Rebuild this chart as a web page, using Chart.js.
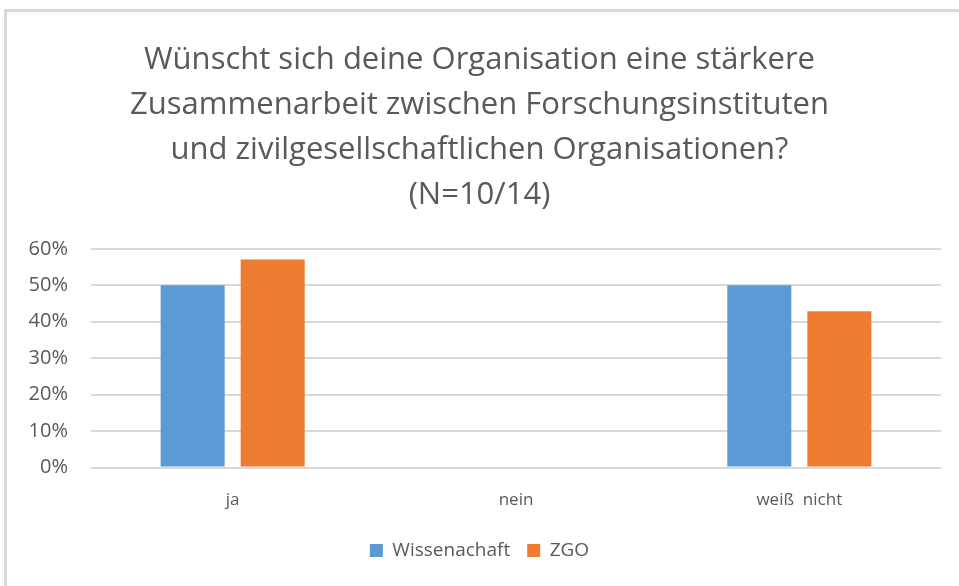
<!DOCTYPE html>
<html>
<head>
<meta charset="utf-8">
<script src="https://cdn.jsdelivr.net/npm/chart.js@4"></script>
<style>
  html, body { margin: 0; padding: 0; background: #fff; }
  #frame {
    position: absolute; left: 4px; top: 9px; width: 960px; height: 580px;
    border-top: 3px solid #d9d9d9; border-left: 3px solid #d9d9d9;
  }
  #wrap { position: absolute; left: 0; top: 0; width: 959px; height: 586px; }
</style>
</head>
<body>
<div id="frame"></div>
<div id="wrap"><canvas id="chart"></canvas></div>
<script>
const categories = ['ja', 'nein', 'weiß  nicht'];
const wissenschaft = [0.50, 0, 0.50];
const zgo = [0.571, 0, 0.429];
const titleLines = [
    'Wünscht sich deine Organisation eine stärkere',
    'Zusammenarbeit zwischen Forschungsinstituten',
    'und zivilgesellschaftlichen Organisationen?',
    '(N=10/14)'
];

const grey = '#595959';
const font = "'Open Sans', 'Liberation Sans', sans-serif";

const ctx = document.getElementById('chart').getContext('2d');

new Chart(ctx, {
    type: 'bar',
    data: {
        labels: categories,
        datasets: [{
            label: 'Wissenachaft',
            data: wissenschaft,
            backgroundColor: '#5b9bd5'
        }, {
            label: 'ZGO',
            data: zgo,
            backgroundColor: '#ed7d31'
        }]
    },
    options: {
        responsive: true,
        maintainAspectRatio: false,
        animation: false,
        categoryPercentage: 0.565,
        barPercentage: 0.8,
        layout: {
            padding: { top: 38, left: 18, right: 18, bottom: 16 }
        },
        plugins: {
            title: {
                display: true,
                text: titleLines,
                color: grey,
                font: { family: font, size: 31, weight: 'normal', lineHeight: 1.45 },
                padding: { top: 0, bottom: 31 }
            },
            legend: {
                position: 'bottom',
                labels: {
                    color: grey,
                    font: { family: font, size: 19 },
                    usePointStyle: true,
                    pointStyle: 'rect',
                    boxWidth: 13,
                    boxHeight: 13,
                    padding: 17
                }
            },
            tooltip: { enabled: false }
        },
        scales: {
            y: {
                min: 0,
                max: 0.6,
                afterFit: axis => { axis.width = 73; },
                ticks: {
                    stepSize: 0.1,
                    color: grey,
                    font: { family: font, size: 20 },
                    padding: 23,
                    callback: v => Math.round(v * 100) + '%'
                },
                grid: { color: '#d9d9d9', lineWidth: 2, drawTicks: false },
                border: { display: false }
            },
            x: {
                ticks: {
                    color: grey,
                    font: { family: font, size: 17 },
                    padding: 14
                },
                grid: { display: false },
                border: { display: false }
            }
        }
    }
});
</script>
</body>
</html>
